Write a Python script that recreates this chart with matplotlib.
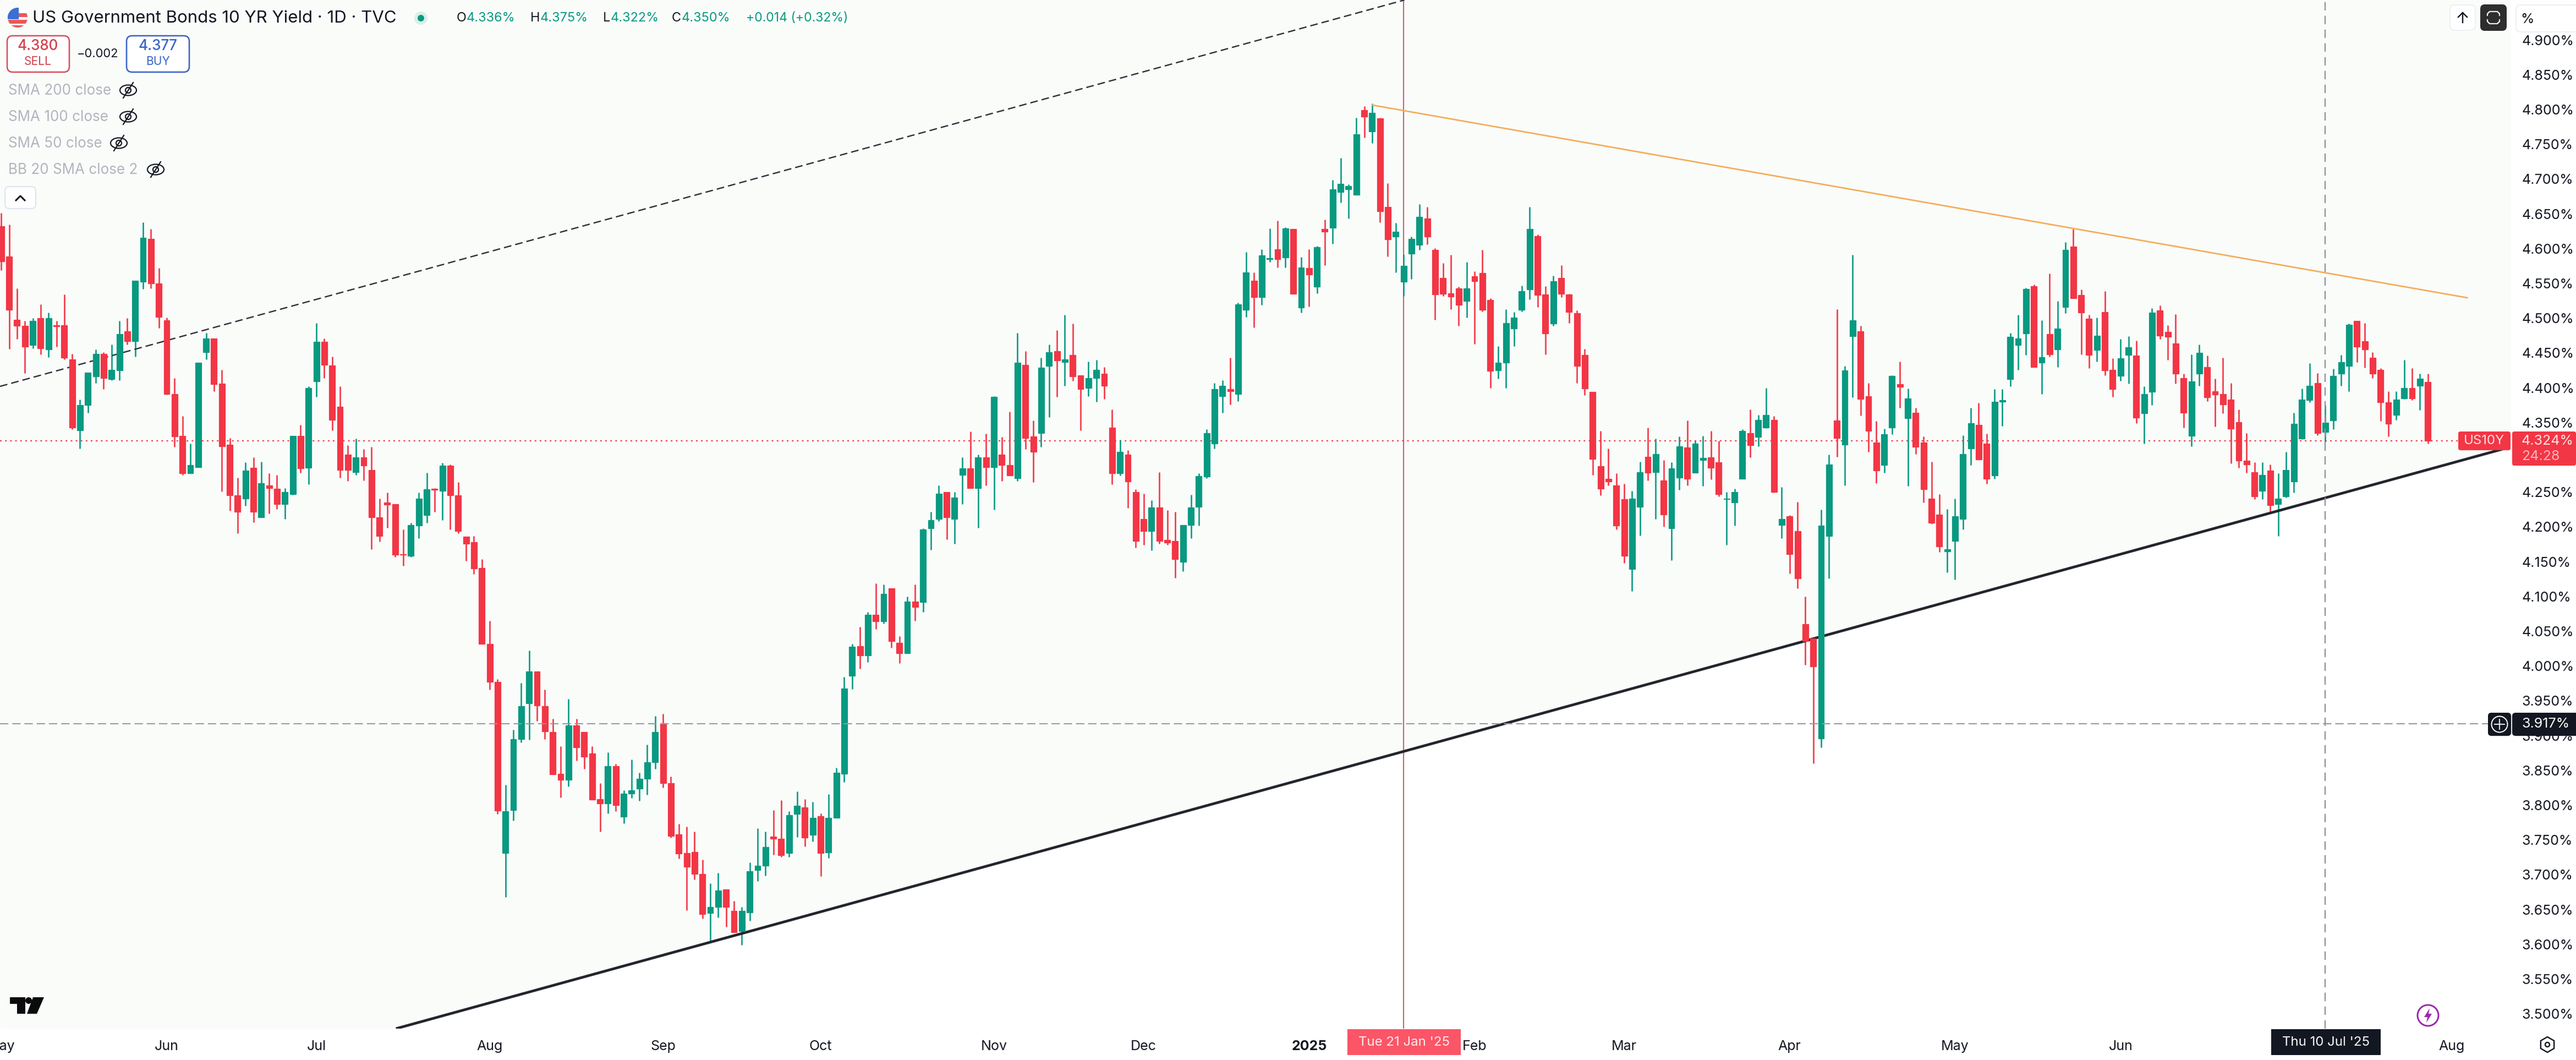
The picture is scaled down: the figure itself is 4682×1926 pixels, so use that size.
import numpy as np
import matplotlib
matplotlib.use('Agg')
import matplotlib.pyplot as plt
from matplotlib.patches import Circle, Ellipse, FancyBboxPatch, Polygon, Rectangle

# daily candles, US10Y
highs = [
    4.651, 4.635, 4.543, 4.496, 4.500, 4.520, 4.508, 4.496, 4.534, 4.449,
    4.383, 4.422, 4.455, 4.451, 4.462, 4.496, 4.500, 4.554, 4.638, 4.628,
    4.572, 4.501, 4.414, 4.359, 4.320, 4.436, 4.479, 4.471, 4.426, 4.328,
    4.271, 4.293, 4.300, 4.294, 4.277, 4.275, 4.256, 4.331, 4.347, 4.402,
    4.493, 4.471, 4.445, 4.402, 4.317, 4.327, 4.312, 4.315, 4.241, 4.249,
    4.233, 4.196, 4.206, 4.249, 4.278, 4.256, 4.292, 4.290, 4.264, 4.186,
    4.187, 4.154, 4.065, 3.981, 3.829, 3.908, 3.976, 4.022, 3.992, 3.966,
    3.924, 3.885, 3.953, 3.924, 3.905, 3.885, 3.832, 3.876, 3.859, 3.821,
    3.866, 3.847, 3.887, 3.928, 3.931, 3.841, 3.773, 3.769, 3.762, 3.722,
    3.688, 3.703, 3.679, 3.662, 3.654, 3.718, 3.767, 3.762, 3.793, 3.807,
    3.791, 3.820, 3.809, 3.805, 3.788, 3.816, 3.854, 3.984, 4.032, 4.056,
    4.078, 4.119, 4.117, 4.112, 4.043, 4.100, 4.117, 4.198, 4.222, 4.260,
    4.250, 4.250, 4.300, 4.337, 4.304, 4.334, 4.388, 4.329, 4.366, 4.479,
    4.453, 4.353, 4.443, 4.462, 4.483, 4.505, 4.492, 4.418, 4.438, 4.440,
    4.430, 4.369, 4.325, 4.310, 4.254, 4.248, 4.238, 4.279, 4.224, 4.222,
    4.203, 4.246, 4.277, 4.340, 4.407, 4.411, 4.443, 4.522, 4.595, 4.566,
    4.599, 4.629, 4.640, 4.631, 4.628, 4.588, 4.599, 4.604, 4.642, 4.699,
    4.730, 4.692, 4.788, 4.805, 4.809, 4.788, 4.694, 4.637, 4.592, 4.617,
    4.664, 4.660, 4.601, 4.579, 4.591, 4.545, 4.581, 4.567, 4.598, 4.529,
    4.460, 4.513, 4.509, 4.547, 4.660, 4.620, 4.546, 4.561, 4.576, 4.535,
    4.511, 4.456, 4.394, 4.338, 4.313, 4.277, 4.262, 4.252, 4.294, 4.343,
    4.327, 4.296, 4.293, 4.330, 4.353, 4.324, 4.331, 4.338, 4.324, 4.250,
    4.255, 4.340, 4.369, 4.361, 4.400, 4.359, 4.257, 4.217, 4.236, 4.100,
    4.040, 4.225, 4.304, 4.513, 4.431, 4.591, 4.489, 4.407, 4.352, 4.341,
    4.418, 4.438, 4.399, 4.371, 4.330, 4.294, 4.247, 4.226, 4.241, 4.332,
    4.371, 4.378, 4.334, 4.398, 4.398, 4.479, 4.505, 4.544, 4.548, 4.497,
    4.564, 4.525, 4.609, 4.628, 4.541, 4.505, 4.501, 4.539, 4.442, 4.470,
    4.474, 4.468, 4.402, 4.514, 4.518, 4.490, 4.506, 4.420, 4.448, 4.462,
    4.446, 4.413, 4.443, 4.407, 4.369, 4.335, 4.293, 4.293, 4.290, 4.277,
    4.308, 4.364, 4.399, 4.435, 4.421, 4.375, 4.427, 4.447, 4.492, 4.496,
    4.493, 4.451, 4.428, 4.395, 4.395, 4.440, 4.428, 4.420, 4.420,
]
lows = [
    4.569, 4.456, 4.470, 4.421, 4.457, 4.448, 4.444, 4.459, 4.441, 4.340,
    4.313, 4.364, 4.407, 4.398, 4.411, 4.411, 4.462, 4.445, 4.542, 4.543,
    4.486, 4.390, 4.315, 4.275, 4.277, 4.286, 4.441, 4.395, 4.251, 4.223,
    4.191, 4.230, 4.207, 4.214, 4.219, 4.226, 4.211, 4.246, 4.278, 4.261,
    4.387, 4.414, 4.339, 4.271, 4.266, 4.275, 4.267, 4.168, 4.179, 4.199,
    4.157, 4.144, 4.157, 4.184, 4.206, 4.222, 4.210, 4.196, 4.191, 4.151,
    4.132, 4.032, 3.966, 3.787, 3.668, 3.778, 3.890, 3.894, 3.921, 3.895,
    3.844, 3.811, 3.827, 3.864, 3.852, 3.808, 3.762, 3.788, 3.791, 3.774,
    3.810, 3.806, 3.815, 3.852, 3.825, 3.753, 3.723, 3.649, 3.693, 3.637,
    3.604, 3.639, 3.625, 3.617, 3.599, 3.634, 3.691, 3.699, 3.729, 3.726,
    3.726, 3.754, 3.741, 3.748, 3.698, 3.724, 3.782, 3.833, 3.967, 3.996,
    4.006, 4.053, 4.061, 4.026, 4.004, 4.018, 4.065, 4.078, 4.167, 4.208,
    4.182, 4.176, 4.233, 4.256, 4.199, 4.260, 4.225, 4.266, 4.274, 4.266,
    4.312, 4.264, 4.315, 4.358, 4.387, 4.403, 4.410, 4.339, 4.388, 4.380,
    4.384, 4.261, 4.274, 4.227, 4.170, 4.174, 4.166, 4.176, 4.174, 4.127,
    4.136, 4.184, 4.202, 4.270, 4.313, 4.364, 4.376, 4.381, 4.502, 4.487,
    4.519, 4.581, 4.573, 4.573, 4.535, 4.508, 4.517, 4.536, 4.576, 4.607,
    4.666, 4.643, 4.677, 4.760, 4.752, 4.638, 4.589, 4.566, 4.532, 4.556,
    4.598, 4.606, 4.498, 4.532, 4.513, 4.489, 4.501, 4.463, 4.510, 4.400,
    4.413, 4.400, 4.460, 4.510, 4.527, 4.516, 4.448, 4.489, 4.530, 4.493,
    4.407, 4.389, 4.275, 4.245, 4.260, 4.196, 4.148, 4.108, 4.188, 4.267,
    4.211, 4.200, 4.152, 4.253, 4.260, 4.278, 4.259, 4.268, 4.244, 4.174,
    4.202, 4.269, 4.300, 4.316, 4.342, 4.249, 4.184, 4.133, 4.112, 4.002,
    3.860, 3.883, 4.126, 4.301, 4.260, 4.386, 4.360, 4.308, 4.263, 4.278,
    4.333, 4.371, 4.259, 4.305, 4.235, 4.204, 4.164, 4.135, 4.124, 4.196,
    4.289, 4.297, 4.262, 4.269, 4.345, 4.402, 4.426, 4.447, 4.430, 4.391,
    4.445, 4.430, 4.507, 4.529, 4.448, 4.428, 4.438, 4.418, 4.387, 4.410,
    4.406, 4.349, 4.320, 4.375, 4.470, 4.440, 4.406, 4.343, 4.316, 4.403,
    4.381, 4.344, 4.363, 4.291, 4.285, 4.278, 4.240, 4.240, 4.222, 4.187,
    4.242, 4.249, 4.326, 4.379, 4.332, 4.322, 4.340, 4.403, 4.395, 4.437,
    4.429, 4.414, 4.352, 4.330, 4.354, 4.384, 4.382, 4.368, 4.320,
]
opens = [
    4.632, 4.589, 4.498, 4.489, 4.461, 4.500, 4.455, 4.490, 4.490, 4.441,
    4.339, 4.375, 4.416, 4.449, 4.412, 4.425, 4.481, 4.467, 4.552, 4.614,
    4.550, 4.497, 4.391, 4.331, 4.277, 4.286, 4.451, 4.471, 4.406, 4.318,
    4.245, 4.241, 4.285, 4.214, 4.260, 4.255, 4.233, 4.247, 4.331, 4.285,
    4.409, 4.466, 4.432, 4.373, 4.304, 4.279, 4.300, 4.282, 4.214, 4.235,
    4.233, 4.161, 4.158, 4.202, 4.217, 4.255, 4.252, 4.288, 4.245, 4.186,
    4.178, 4.141, 4.032, 3.977, 3.731, 3.793, 3.895, 3.946, 3.992, 3.942,
    3.905, 3.845, 3.836, 3.915, 3.905, 3.874, 3.809, 3.802, 3.856, 3.783,
    3.817, 3.824, 3.838, 3.862, 3.918, 3.832, 3.758, 3.731, 3.733, 3.701,
    3.645, 3.654, 3.679, 3.648, 3.619, 3.646, 3.707, 3.713, 3.755, 3.752,
    3.731, 3.787, 3.797, 3.757, 3.784, 3.732, 3.782, 3.845, 3.986, 4.029,
    4.015, 4.074, 4.064, 4.112, 4.033, 4.018, 4.093, 4.092, 4.198, 4.211,
    4.250, 4.211, 4.275, 4.284, 4.256, 4.300, 4.286, 4.304, 4.289, 4.270,
    4.433, 4.330, 4.335, 4.431, 4.453, 4.437, 4.447, 4.418, 4.400, 4.414,
    4.420, 4.343, 4.277, 4.304, 4.250, 4.211, 4.194, 4.228, 4.181, 4.180,
    4.150, 4.203, 4.229, 4.272, 4.320, 4.388, 4.398, 4.391, 4.512, 4.554,
    4.530, 4.585, 4.599, 4.587, 4.628, 4.515, 4.572, 4.545, 4.628, 4.630,
    4.681, 4.685, 4.677, 4.799, 4.768, 4.787, 4.660, 4.617, 4.552, 4.593,
    4.605, 4.643, 4.598, 4.558, 4.536, 4.543, 4.525, 4.560, 4.565, 4.526,
    4.425, 4.436, 4.485, 4.512, 4.541, 4.618, 4.534, 4.492, 4.558, 4.534,
    4.507, 4.447, 4.394, 4.287, 4.269, 4.260, 4.240, 4.139, 4.229, 4.301,
    4.279, 4.267, 4.198, 4.271, 4.314, 4.278, 4.296, 4.300, 4.293, 4.240,
    4.235, 4.269, 4.335, 4.329, 4.343, 4.354, 4.203, 4.215, 4.194, 4.060,
    4.040, 3.896, 4.187, 4.353, 4.318, 4.474, 4.481, 4.388, 4.321, 4.289,
    4.343, 4.405, 4.356, 4.364, 4.321, 4.241, 4.218, 4.165, 4.180, 4.211,
    4.313, 4.347, 4.320, 4.274, 4.380, 4.412, 4.461, 4.478, 4.546, 4.436,
    4.477, 4.455, 4.516, 4.603, 4.533, 4.499, 4.454, 4.509, 4.426, 4.417,
    4.447, 4.446, 4.363, 4.394, 4.511, 4.480, 4.464, 4.414, 4.331, 4.420,
    4.430, 4.395, 4.391, 4.383, 4.351, 4.295, 4.279, 4.252, 4.281, 4.233,
    4.244, 4.265, 4.327, 4.382, 4.407, 4.336, 4.353, 4.420, 4.431, 4.496,
    4.467, 4.443, 4.426, 4.379, 4.361, 4.385, 4.400, 4.403, 4.408,
]
closes = [
    4.582, 4.512, 4.489, 4.459, 4.496, 4.457, 4.500, 4.488, 4.443, 4.343,
    4.375, 4.422, 4.449, 4.414, 4.426, 4.477, 4.467, 4.554, 4.616, 4.550,
    4.502, 4.391, 4.330, 4.277, 4.289, 4.436, 4.471, 4.405, 4.316, 4.245,
    4.222, 4.281, 4.222, 4.263, 4.256, 4.233, 4.250, 4.331, 4.284, 4.400,
    4.466, 4.433, 4.354, 4.282, 4.282, 4.300, 4.288, 4.214, 4.187, 4.232,
    4.160, 4.160, 4.203, 4.241, 4.254, 4.253, 4.288, 4.245, 4.194, 4.176,
    4.140, 4.032, 3.977, 3.792, 3.791, 3.895, 3.942, 3.992, 3.943, 3.906,
    3.844, 3.836, 3.915, 3.883, 3.870, 3.808, 3.802, 3.856, 3.800, 3.817,
    3.821, 3.838, 3.862, 3.905, 3.832, 3.756, 3.730, 3.711, 3.701, 3.643,
    3.654, 3.677, 3.654, 3.617, 3.648, 3.705, 3.713, 3.740, 3.752, 3.728,
    3.786, 3.799, 3.753, 3.782, 3.731, 3.782, 3.847, 3.968, 4.028, 4.015,
    4.074, 4.064, 4.104, 4.036, 4.018, 4.093, 4.085, 4.196, 4.210, 4.248,
    4.214, 4.242, 4.284, 4.256, 4.300, 4.286, 4.387, 4.289, 4.274, 4.436,
    4.328, 4.308, 4.429, 4.451, 4.439, 4.441, 4.416, 4.398, 4.414, 4.426,
    4.403, 4.277, 4.308, 4.265, 4.180, 4.194, 4.228, 4.180, 4.177, 4.154,
    4.203, 4.228, 4.273, 4.335, 4.398, 4.403, 4.395, 4.520, 4.566, 4.530,
    4.590, 4.586, 4.585, 4.629, 4.535, 4.573, 4.563, 4.602, 4.624, 4.685,
    4.693, 4.690, 4.764, 4.790, 4.795, 4.654, 4.613, 4.624, 4.575, 4.614,
    4.646, 4.617, 4.534, 4.535, 4.531, 4.519, 4.543, 4.553, 4.512, 4.424,
    4.436, 4.493, 4.501, 4.539, 4.628, 4.533, 4.478, 4.553, 4.535, 4.509,
    4.431, 4.399, 4.298, 4.255, 4.265, 4.202, 4.158, 4.241, 4.279, 4.278,
    4.305, 4.218, 4.284, 4.316, 4.269, 4.320, 4.299, 4.285, 4.247, 4.241,
    4.250, 4.338, 4.317, 4.354, 4.361, 4.250, 4.211, 4.161, 4.126, 4.036,
    3.999, 4.202, 4.290, 4.328, 4.425, 4.497, 4.384, 4.338, 4.281, 4.333,
    4.417, 4.401, 4.385, 4.315, 4.254, 4.206, 4.172, 4.168, 4.215, 4.305,
    4.349, 4.297, 4.269, 4.380, 4.382, 4.473, 4.471, 4.542, 4.430, 4.444,
    4.448, 4.485, 4.598, 4.529, 4.508, 4.447, 4.475, 4.425, 4.398, 4.442,
    4.458, 4.357, 4.391, 4.508, 4.475, 4.473, 4.420, 4.364, 4.409, 4.450,
    4.386, 4.390, 4.376, 4.341, 4.295, 4.290, 4.244, 4.275, 4.231, 4.241,
    4.282, 4.348, 4.383, 4.403, 4.335, 4.350, 4.417, 4.437, 4.491, 4.459,
    4.455, 4.420, 4.379, 4.348, 4.383, 4.400, 4.385, 4.413, 4.324,
]

month_labels = ['May', 'Jun', 'Jul', 'Aug', 'Sep', 'Oct', 'Nov', 'Dec', '2025',
                'Feb', 'Mar', 'Apr', 'May', 'Jun', 'Aug']
month_bars = [0, 21, 40, 62, 84, 104, 126, 145, 166, 187, 206, 227, 248, 269, 311]
price_ticks = [3.5, 3.55, 3.6, 3.65, 3.7, 3.75, 3.8, 3.85, 3.9, 3.95, 4.0, 4.05, 4.1, 4.15,
               4.2, 4.25, 4.35, 4.4, 4.45, 4.5, 4.55, 4.6, 4.65, 4.7, 4.75, 4.8, 4.85, 4.9]

# drawings: (bar, price) end points
support_bars = [50.1, 318.5]
support_prices = [3.4788, 4.315]
channel_bars = [-0.16, 178.1]
channel_prices = [4.402, 4.9574]
resist_bars = [174.05, 313.0]
resist_prices = [4.8063, 4.5294]

last_price = 4.324
cross_price = 3.917
cross_bar = 295
marker_bar = 178

RED = '#F23645'
GREEN = '#089981'
INK = '#131722'
PX = 0.72  # points per output pixel at dpi=100

plt.rcParams['font.family'] = ['Inter', 'DejaVu Sans']
plt.rcParams['lines.scale_dashes'] = False

fig = plt.figure(figsize=(46.82, 19.26), dpi=100, facecolor='white')
ax = fig.add_axes([0, 57 / 1926, 4563 / 4682, 1869 / 1926])
ax.set_xlim(-0.16, 318.5)
ax.set_ylim(3.4788, 4.9574)
ax.set_facecolor('white')
for s in ax.spines.values():
    s.set_visible(False)

# faint shade above the support line
ax.fill_between([-0.16, support_bars[0], support_bars[1]],
                [support_prices[0], support_prices[0], support_prices[1]],
                4.9574, color='#FAFCFA', lw=0, zorder=0)

bars = np.arange(len(closes))
o = np.array(opens)
c = np.array(closes)
colors = [GREEN if b >= a else RED for a, b in zip(opens, closes)]

ax.axvline(marker_bar, color='#CB5F69', lw=2 * PX, zorder=1)
ax.axhline(last_price, color=RED, lw=2 * PX, ls=(0, (2.2, 4.4)), zorder=1.5)

ax.vlines(bars, lows, highs, colors=colors, lw=2.6 * PX, zorder=2)
ax.plot(support_bars, support_prices, color='#23252D', lw=4.8 * PX, zorder=3,
        solid_capstyle='butt')
ax.plot(channel_bars, channel_prices, color='#2E2F36', lw=2.4 * PX, ls=(0, (10, 5.2)), zorder=3)
ax.plot(resist_bars, resist_prices, color='#F4AE5C', lw=2.8 * PX, zorder=3)
ax.bar(bars, np.abs(c - o), bottom=np.minimum(o, c), width=0.76, color=colors,
       edgecolor=colors, linewidth=1.2 * PX, zorder=4)

# crosshair goes over the candles
ax.axhline(cross_price, color='#9598A1', lw=2 * PX, ls=(0, (11, 5)), zorder=5)
ax.axvline(cross_bar, color='#8E9098', lw=2.2 * PX, ls=(0, (11, 7)), zorder=5)

ax.yaxis.tick_right()
ax.set_yticks(price_ticks)
ax.set_yticklabels([f'{p:.3f}%' for p in price_ticks])
ax.set_xticks(month_bars)
ax.set_xticklabels(month_labels)
ax.tick_params(axis='y', length=0, pad=14.5, labelsize=18, labelcolor=INK)
ax.tick_params(axis='x', length=0, pad=15, labelsize=18, labelcolor=INK)
ax.get_xticklabels()[8].set_fontweight('bold')

# everything below is interface chrome, in image pixels
ui = fig.add_axes([0, 0, 1, 1], zorder=10, facecolor='none')
ui.set_xlim(0, 4682)
ui.set_ylim(1926, 0)
ui.axis('off')


def box(x0, y0, x1, y1, fc, ec='none', lw=0, r=8):
    p = FancyBboxPatch((x0, y0), x1 - x0, y1 - y0, boxstyle=f'round,pad=0,rounding_size={r}',
                       fc=fc, ec=ec, lw=lw * PX)
    ui.add_patch(p)
    return p


def label(x, y, s, px=25, color=INK, ha='left', weight='normal'):
    ui.text(x, y, s, fontsize=px * PX, color=color, ha=ha, va='center', fontweight=weight)


def eye(x, y):
    ui.add_patch(Ellipse((x, y), 30, 19, fc='none', ec='#131722', lw=2.2 * PX))
    ui.add_patch(Circle((x, y), 5, fc='none', ec='#131722', lw=2.2 * PX))
    ui.plot([x - 9, x + 9], [y + 14, y - 14], color='#131722', lw=2.2 * PX)


# flag
flag = Circle((32, 32), 18, fc='white', ec='none')
ui.add_patch(flag)
for y0 in (24, 36, 46):
    r = Rectangle((14, y0), 36, 7 if y0 != 46 else 5, fc='#EB5757', ec='none')
    ui.add_patch(r)
    r.set_clip_path(flag)
canton = Rectangle((14, 14), 20, 21, fc='#3B6FD4', ec='none')
ui.add_patch(canton)
canton.set_clip_path(flag)

# header row
label(59, 33, 'US Government Bonds 10 YR Yield · 1D · TVC', px=31.2)
ui.add_patch(Circle((765, 33), 12, fc='#D8F0EA', ec='none'))
ui.add_patch(Circle((765, 33), 6, fc=GREEN, ec='none'))
for x, k, v in ((830, 'O', '4.336%'), (964, 'H', '4.375%'), (1096, 'L', '4.322%'), (1221, 'C', '4.350%')):
    t = ui.text(x, 33, k, fontsize=23.5 * PX, color=INK, va='center')
    ui.annotate(v, xy=(1, 0.5), xycoords=t, xytext=(0, 0), textcoords='offset points',
                fontsize=23.5 * PX, color=GREEN, va='center')
label(1356, 33, '+0.014 (+0.32%)', px=23, color=GREEN)

# sell / buy
box(13, 65, 126, 131, 'white', '#D9505E', 2.6, r=10)
label(69, 84, '4.380', px=26, color='#D1434F', ha='center', weight='medium')
label(69, 112, 'SELL', px=21, color='#D1434F', ha='center')
label(178, 98, '\u22120.002', px=22, ha='center')
box(230, 65, 344, 131, 'white', '#3D66C6', 2.6, r=10)
label(287, 84, '4.377', px=26, color='#3D66C6', ha='center', weight='medium')
label(287, 112, 'BUY', px=21, color='#3D66C6', ha='center')

# hidden indicators
for y, s, ex in ((165, 'SMA 200 close', 233), (213, 'SMA 100 close', 233),
                 (261, 'SMA 50 close', 216), (309, 'BB 20 SMA close 2', 283)):
    label(15, y, s, px=26, color='#B2B5BE')
    eye(ex, y - 1)
box(9, 339, 65, 379, 'white', '#E0E3EB', 2)
ui.plot([29, 37, 45], [364, 356, 364], color='#131722', lw=3 * PX)

# top right buttons
box(4453, 9, 4499, 55, 'white', '#EEEFF2', 2)
ui.plot([4476, 4476], [23, 41], color='#131722', lw=2.4 * PX)
ui.plot([4468, 4476, 4484], [31, 23, 31], color='#131722', lw=2.4 * PX)
box(4508, 8, 4556, 56, '#2E2E2E')
ui.plot([4521, 4521, 4525, 4539, 4543, 4543], [28, 25, 21, 21, 25, 28], color='white', lw=2.2 * PX)
ui.plot([4521, 4521, 4525, 4539, 4543, 4543], [36, 39, 43, 43, 39, 36], color='white', lw=2.2 * PX)
box(4573, 9, 4700, 58, 'white', '#EEEFF2', 2)
label(4581, 35, '%', px=25)

# last price tags
box(4468, 784, 4563, 818, RED, r=4)
label(4515, 801, 'US10Y', px=24, color='#FBDDE0', ha='center')
box(4566, 784, 4682, 846, RED, r=4)
label(4583, 801, '4.324%', px=25, color='#FBE3E5')
label(4583, 830, '24:28', px=25, color='#F9B4BA')

# crosshair tags
box(4522, 1295, 4564, 1337, '#131722', r=6)
ui.add_patch(Circle((4543, 1316), 14.5, fc='none', ec='white', lw=2 * PX))
ui.plot([4534, 4552], [1316, 1316], color='white', lw=2 * PX)
ui.plot([4543, 4543], [1307, 1325], color='white', lw=2 * PX)
box(4566, 1295, 4700, 1337, '#131722', r=6)
label(4583, 1316, '3.917%', px=25, color='white')

ui.add_patch(Rectangle((2449, 1870), 206, 47, fc='#FB5567', ec='none'))
label(2552, 1894, "Tue 21 Jan '25", px=24, color='#FFE9EB', ha='center')
ui.add_patch(Rectangle((4128, 1870), 199, 47, fc='#131722', ec='none'))
label(4227, 1894, "Thu 10 Jul '25", px=24, color='white', ha='center')

# logo
ui.add_patch(Polygon([(18, 1812), (46, 1812), (46, 1842), (31, 1842), (31, 1824), (18, 1824)], fc='#0B0B0E', ec='none'))
ui.add_patch(Circle((52, 1818), 6, fc='#0B0B0E', ec='none'))
ui.add_patch(Polygon([(60, 1812), (80, 1812), (67, 1842), (49, 1842)], fc='#0B0B0E', ec='none'))

# lightning button
ui.add_patch(Circle((4413, 1845), 19, fc='white', ec='#9C27B0', lw=3 * PX))
ui.add_patch(Polygon([(4416, 1832), (4406, 1848), (4412, 1848), (4410, 1858), (4420, 1842), (4414, 1842)],
                     fc='#9C27B0', ec='none'))

# settings gear
gear = [(4630 + 14 * np.sin(a), 1898 + 14 * np.cos(a)) for a in np.arange(6) * np.pi / 3]
ui.add_patch(Polygon(gear, fc='none', ec='#131722', lw=2.4 * PX))
ui.add_patch(Circle((4630, 1898), 4, fc='none', ec='#131722', lw=2.4 * PX))

fig.savefig('out.png', dpi=100)
plt.close(fig)
